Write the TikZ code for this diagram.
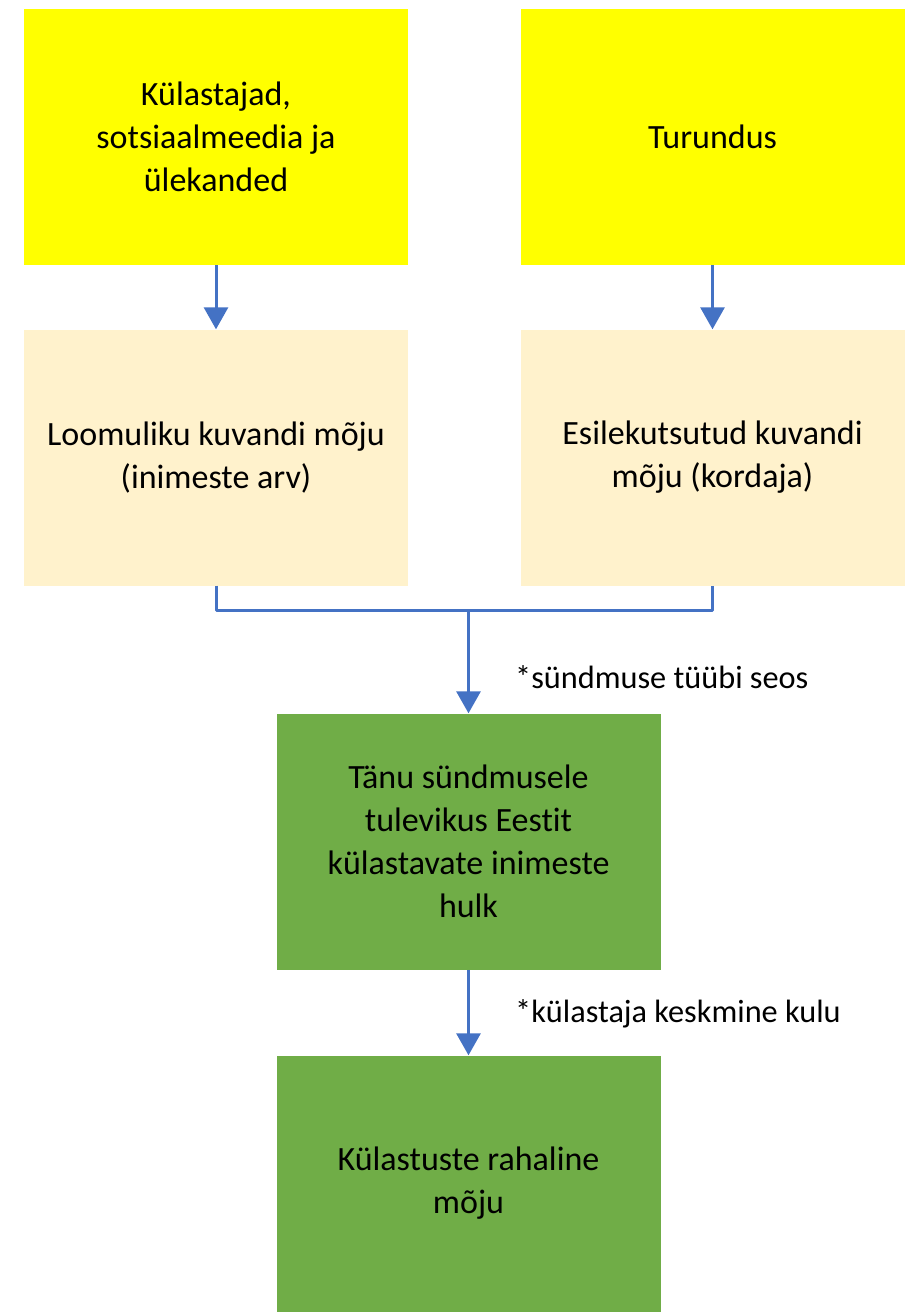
\documentclass[tikz,border=0pt]{standalone}
\usepackage{fontspec}
\setmainfont[Ligatures={NoCommon}]{Carlito}
\usetikzlibrary{arrows.meta}
\definecolor{yel}{HTML}{FFFF00}
\definecolor{cream}{HTML}{FFF2CC}
\definecolor{grn}{HTML}{70AD47}
\definecolor{blu}{HTML}{4472C4}
\begin{document}
\begin{tikzpicture}[x=1pt,y=-1pt,
  box/.style={minimum width=384pt, minimum height=256pt, inner sep=0pt, align=center,
    font=\fontsize{34}{43}\selectfont, text=black},
  ybox/.style={box, fill=yel},
  cbox/.style={box, fill=cream},
  gbox/.style={box, fill=grn},
  conn/.style={draw=blu, line width=3pt},
  arr/.style={conn, -{Triangle[width=24pt,length=22pt]}},
  lbl/.style={anchor=base west, inner sep=0pt, font=\fontsize{32.3}{40}\selectfont}]
\useasboundingbox (0,0) rectangle (917,1312);
\node[ybox] (yl) at (216,137) {Külastajad,\\sotsiaalmeedia ja\\ülekanded};
\node[ybox] (yr) at (712.5,137) {Turundus};
\node[cbox] (cl) at (216,457.5) {Loomuliku kuvandi mõju\\(inimeste arv)};
\node[cbox] (cr) at (712.5,457.5) {Esilekutsutud kuvandi\\mõju (kordaja)};
\node[gbox] (g1) at (468.5,841.5) {Tänu sündmusele\\tulevikus Eestit\\külastavate inimeste\\hulk};
\node[gbox] (g2) at (468.5,1183.5) {Külastuste rahaline\\mõju};
\coordinate (join) at (468.5,610);
\draw[arr] (yl.south) -- (cl.north);
\draw[arr] (yr.south) -- (cr.north);
\draw[conn, line join=round] (cl.south) |- (join) -| (cr.south);
\draw[arr] (join) -- (g1.north);
\draw[arr] (g1.south) -- (g2.north);
\node[lbl] (l1) at (515,688) {*sündmuse tüübi seos};
\node[lbl] (l2) at (515,1022) {*külastaja keskmine kulu};
\end{tikzpicture}
\end{document}
